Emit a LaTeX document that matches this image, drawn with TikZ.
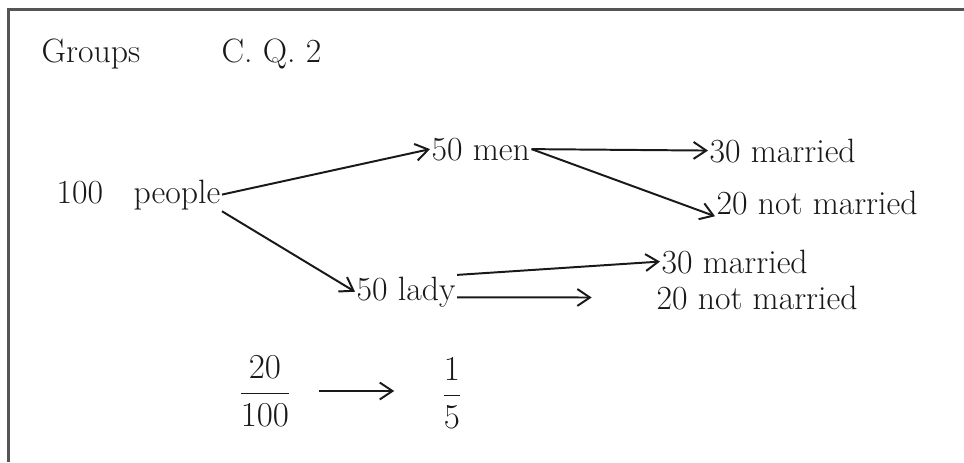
\documentclass[tikz,border=0pt]{standalone}
\usepackage{amsmath}
\usepackage{xcolor}
\usetikzlibrary{arrows.meta,positioning}
\definecolor{inkblack}{RGB}{25,25,25}
\definecolor{framegray}{RGB}{85,85,85}

\begin{document}
\begin{tikzpicture}[
  x=0.025cm, y=-0.025cm,
  word/.style={
    inner sep=1pt, anchor=base west, text=inkblack,
    font=\fontsize{24}{28}\selectfont
  },
  arr/.style={-{Straight Barb[length=9pt,width=12pt]}, line width=1.4pt, inkblack}
]
  \useasboundingbox (0,0) rectangle (964,462);
  \draw[framegray, line width=1.5pt] (8.5,462) -- (8.5,9.5) -- (964,9.5);

  % heading
  \node[word] (title) at (40,62) {Groups};
  \node[word] (qnum) at (220,62) {C. Q. 2};

  % tree
  \node[word] (people) at (55,203) {100 \hspace{0.6em}people};
  \node[word] (men) at (430,160) {50 men};
  \node[word] (lady) at (355,300) {50 lady};
  \node[word] (menYes) at (708,162) {30 married};
  \node[word] (menNo) at (715,214) {20 not married};
  \node[word] (ladyYes) at (660,273) {30 married};
  \node[word] (ladyNo) at (655,309) {20 not married};

  \draw[arr] (people.east) -- (men.west);
  \draw[arr] (people.south east) -- (lady.west);
  \draw[arr] (men.east) -- (menYes.west);
  \draw[arr] (men.east) -- (menNo.south west);
  \draw[arr] (lady.north east) -- (ladyYes.west);
  \draw[arr, shorten >=45pt] ([yshift=-4pt]lady.east) -- (ladyNo.west);

  % ratio
  \node[word, anchor=center] (frac) at (265,391) {$\dfrac{20}{100}$};
  \node[word, anchor=center] (fifth) at (452,393) {$\dfrac{1}{5}$};
  \draw[arr, shorten <=19pt, shorten >=33pt] (frac.east) -- (fifth.west |- frac.east);
\end{tikzpicture}
\end{document}
